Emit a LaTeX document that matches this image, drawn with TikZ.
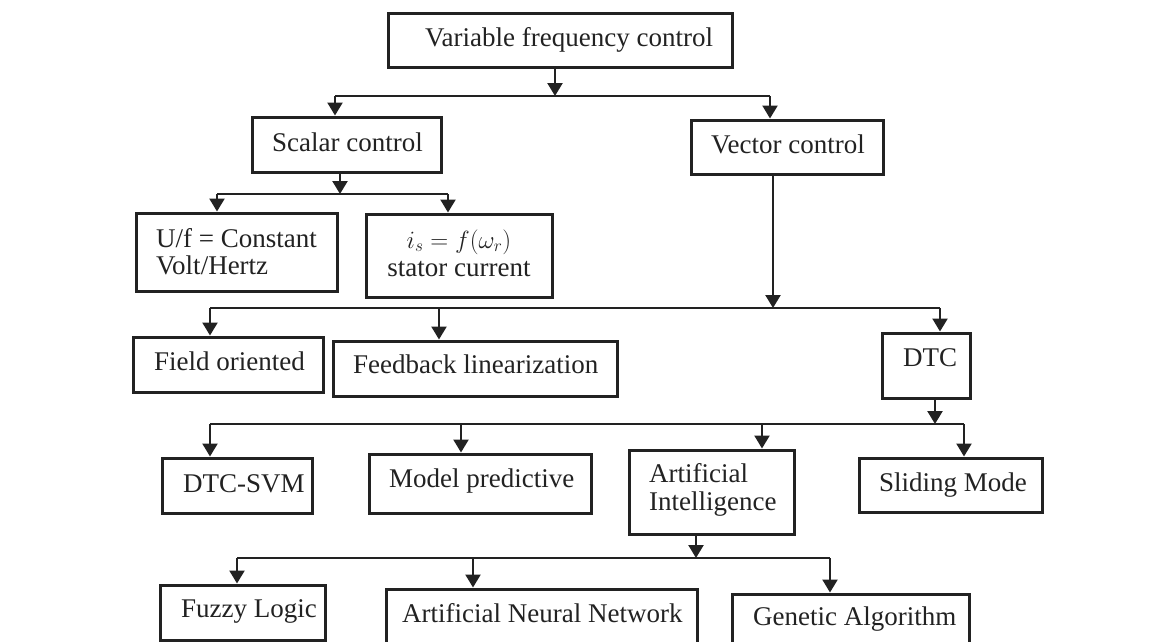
\documentclass[tikz,border=0pt]{standalone}
\usepackage{fontspec}
\setmainfont{Liberation Serif}
\usetikzlibrary{arrows.meta}
\definecolor{ink}{HTML}{222222}
\tikzset{
  box/.style={draw=ink, line width=3pt, inner sep=0pt, fill=white},
  txt/.style={inner sep=0pt, text=ink, font=\fontsize{27}{28}\selectfont},
  conn/.style={draw=ink, line width=2.3pt},
  arr/.style={conn, -{Triangle[width=15pt,length=13pt]}},
}
\begin{document}
\begin{tikzpicture}[x=1pt,y=-1pt]
\useasboundingbox (0,0) rectangle (1164,641);
\clip (0,0) rectangle (1164,641);
% boxes
\node[box, minimum width=344pt, minimum height=54pt] (vfc) at (560,40) {};
\node[box, minimum width=189pt, minimum height=55pt] (sc) at (346.5,144.5) {};
\node[box, minimum width=192pt, minimum height=54pt] (vc) at (787,147) {};
\node[box, minimum width=201pt, minimum height=78pt] (uf) at (236.5,252) {};
\node[box, minimum width=186pt, minimum height=83pt] (st) at (459,255.5) {};
\node[box, minimum width=190pt, minimum height=55pt] (fo) at (228,364.5) {};
\node[box, minimum width=284pt, minimum height=55pt] (fl) at (475,368.5) {};
\node[box, minimum width=88pt, minimum height=65pt] (dtc) at (926,365.5) {};
\node[box, minimum width=150pt, minimum height=55pt] (svm) at (237,485.5) {};
\node[box, minimum width=222pt, minimum height=59pt] (mp) at (480,483.5) {};
\node[box, minimum width=165pt, minimum height=84pt] (ai) at (711.5,492) {};
\node[box, minimum width=183pt, minimum height=54pt] (sm) at (950.5,485) {};
\node[box, minimum width=165pt, minimum height=55pt] (fz) at (242.5,612.5) {};
\node[box, minimum width=311pt, minimum height=59pt] (ann) at (541.5,618.5) {};
\node[box, minimum width=237pt, minimum height=58pt] (ga) at (850.5,623) {};
% texts
\node[txt, anchor=base west] (vfct) at (425,46) {Variable frequency control};
\node[txt, anchor=base west] (sct) at (272,151) {Scalar control};
\node[txt, anchor=base west] (vct) at (711,153) {Vector control};
\node[txt, anchor=base west] (uft1) at (156,247) {U/f = Constant};
\node[txt, anchor=base west] (uft2) at (156,274) {Volt/Hertz};
\node[txt, anchor=base] (stt1) at (459,248) {$i_s = f(\omega_r)$};
\node[txt, anchor=base] (stt2) at (459,276) {stator current};
\node[txt, anchor=base west] (fot) at (154,370) {Field oriented};
\node[txt, anchor=base west] (flt) at (353,373) {Feedback linearization};
\node[txt, anchor=base west] (dtct) at (903,366) {DTC};
\node[txt, anchor=base west] (svmt) at (183,492) {DTC-SVM};
\node[txt, anchor=base west] (mpt) at (389,487) {Model predictive};
\node[txt, anchor=base west] (ait1) at (649,482) {Artificial};
\node[txt, anchor=base west] (ait2) at (649,510) {Intelligence};
\node[txt, anchor=base west] (smt) at (879,491) {Sliding Mode};
\node[txt, anchor=base west] (fzt) at (181,617) {Fuzzy Logic};
\node[txt, anchor=base west] (annt) at (402,622) {Artificial Neural Network};
\node[txt, anchor=base west] (gat) at (753,625) {Genetic Algorithm};
% bus junctions
\coordinate (j1) at (555,96);
\coordinate (j2) at (340,194);
\coordinate (j3) at (773,308);
\coordinate (j4) at (935,424);
\coordinate (j5) at (696,558);
% level 1
\draw[arr] (vfc.south -| j1) -- (j1);
\draw[conn] (335,96) -- (770,96);
\draw[arr] (335,96) -- (sc.north -| 335,0);
\draw[arr] (770,96) -- (vc.north -| 770,0);
% level 2
\draw[arr] (sc.south -| j2) -- (j2);
\draw[conn] (217,194) -- (448,194);
\draw[arr] (217,194) -- (uf.north -| 217,0);
\draw[arr] (448,194) -- (st.north -| 448,0);
% level 3
\draw[arr] (vc.south -| j3) -- (j3);
\draw[conn] (210,308) -- (940,308);
\draw[arr] (210,308) -- (fo.north -| 210,0);
\draw[arr] (439,308) -- (fl.north -| 439,0);
\draw[arr] (940,308) -- (dtc.north -| 940,0);
% level 4
\draw[arr] (dtc.south -| j4) -- (j4);
\draw[conn] (210,424) -- (964,424);
\draw[arr] (210,424) -- (svm.north -| 210,0);
\draw[arr] (461,424) -- (mp.north -| 461,0);
\draw[arr] (762,424) -- (ai.north -| 762,0);
\draw[arr] (964,424) -- (sm.north -| 964,0);
% level 5
\draw[arr] (ai.south -| j5) -- (j5);
\draw[conn] (237,558) -- (830,558);
\draw[arr] (237,558) -- (fz.north -| 237,0);
\draw[arr] (473,558) -- (ann.north -| 473,0);
\draw[arr] (830,558) -- (ga.north -| 830,0);
\end{tikzpicture}
\end{document}
